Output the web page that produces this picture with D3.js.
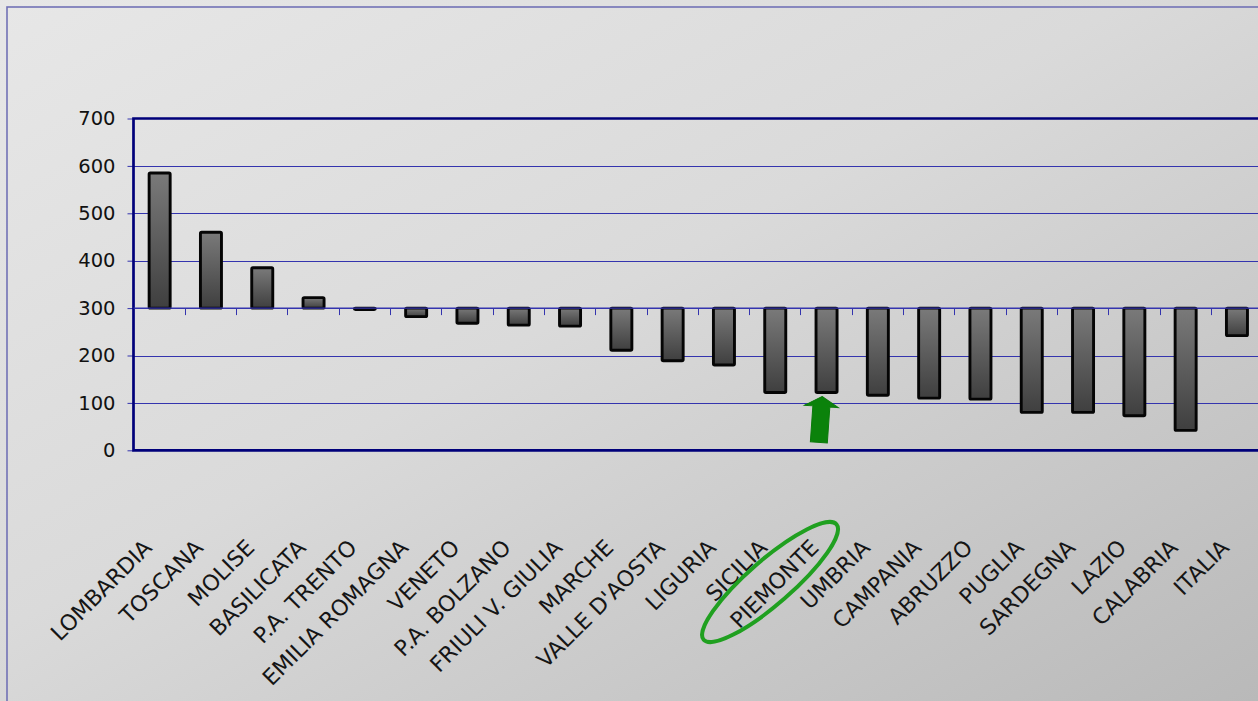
<!DOCTYPE html>
<html>
<head>
<meta charset="utf-8">
<script src="https://cdn.jsdelivr.net/npm/d3@7"></script>
<style>
  html, body { margin: 0; padding: 0; background: #ffffff; }
  svg { display: block; }
  text { font-family: "DejaVu Sans", Verdana, sans-serif; }
</style>
</head>
<body>
<svg id="chart" width="1258" height="701"></svg>
<script>
// Regions (ordered as plotted) and their values; bars hang from the 300 line
const categories = [
  "LOMBARDIA", "TOSCANA", "MOLISE", "BASILICATA", "P.A. TRENTO", "EMILIA ROMAGNA",
  "VENETO", "P.A. BOLZANO", "FRIULI V. GIULIA", "MARCHE", "VALLE D'AOSTA", "LIGURIA",
  "SICILIA", "PIEMONTE", "UMBRIA", "CAMPANIA", "ABRUZZO", "PUGLIA", "SARDEGNA",
  "LAZIO", "CALABRIA", "ITALIA"
];
const values = [
  585, 460, 385, 322, 297, 282,
  268, 264, 262, 211, 189, 180,
  122, 122, 116, 110, 108, 80, 80,
  73, 42, 242
];
const yTicks = [0, 100, 200, 300, 400, 500, 600, 700];
const baseValue = 300;
const highlighted = "PIEMONTE";

const svg = d3.select("#chart");
const W = 1258, H = 701;

const plot = { left: 133.5, top: 118.5, bottom: 450.3, band: 51.3 };
plot.right = plot.left + plot.band * categories.length;

const x = d3.scaleBand().domain(categories).range([plot.left, plot.right]).padding(0);
const y = d3.scaleLinear().domain([0, 700]).range([plot.bottom, plot.top]);
const crisp = v => Math.round(v) + 0.5;

const defs = svg.append("defs");
const bg = defs.append("linearGradient").attr("id", "bgGrad")
  .attr("x1", "0").attr("y1", "0").attr("x2", "1").attr("y2", "1");
bg.append("stop").attr("offset", "0").attr("stop-color", "#e7e7e7");
bg.append("stop").attr("offset", "0.45").attr("stop-color", "#dadada");
bg.append("stop").attr("offset", "1").attr("stop-color", "#b9b9b9");

const barGrad = defs.append("linearGradient").attr("id", "barGrad")
  .attr("x1", "0").attr("y1", "0").attr("x2", "0").attr("y2", "1");
barGrad.append("stop").attr("offset", "0").attr("stop-color", "#7a7a7a");
barGrad.append("stop").attr("offset", "1").attr("stop-color", "#3f3f3f");

// Chart area background and frame
svg.append("rect").attr("x", 0).attr("y", 0).attr("width", W).attr("height", H)
  .attr("fill", "url(#bgGrad)");
svg.append("rect").attr("x", 7).attr("y", 7).attr("width", W + 20).attr("height", H + 20)
  .attr("fill", "none").attr("stroke", "#7272b6").attr("stroke-width", 1.6);

// Horizontal gridlines
svg.append("g").selectAll("line")
  .data(yTicks.filter(v => v > 0 && v < 700))
  .join("line")
  .attr("x1", plot.left).attr("x2", plot.right)
  .attr("y1", d => crisp(y(d))).attr("y2", d => crisp(y(d)))
  .attr("stroke", "#3434ae").attr("stroke-width", 1);

// Value axis
const yAxis = svg.append("g")
  .attr("transform", `translate(${plot.left},0)`)
  .call(d3.axisLeft(y).tickValues(yTicks).tickSize(6).tickPadding(12));
yAxis.select(".domain").remove();
yAxis.selectAll(".tick line").attr("stroke", "#3434ae").attr("stroke-width", 1);
yAxis.selectAll(".tick text")
  .attr("fill", "#111").attr("font-size", "19.5px")
  .attr("font-family", '"DejaVu Sans", Verdana, sans-serif');

// Category ticks hanging below the 300 line
svg.append("g").selectAll("line")
  .data(categories.slice(1))
  .join("line")
  .attr("x1", d => crisp(x(d))).attr("x2", d => crisp(x(d)))
  .attr("y1", y(baseValue)).attr("y2", y(baseValue) + 7)
  .attr("stroke", "#3434ae").attr("stroke-width", 1);

// Bars from the 300 line
const barW = plot.band * 0.41;
svg.append("g").selectAll("rect")
  .data(categories.map((c, i) => ({ c, v: values[i] })))
  .join("rect")
  .attr("x", d => x(d.c) + x.bandwidth() / 2 - barW / 2 + 0.5)
  .attr("y", d => y(Math.max(d.v, baseValue)))
  .attr("width", barW)
  .attr("height", d => Math.max(Math.abs(y(d.v) - y(baseValue)), 0.8))
  .attr("rx", 1.2)
  .attr("fill", "url(#barGrad)")
  .attr("stroke", "#050505").attr("stroke-width", 2.9);

// Plot area border (top, left, bottom) in dark navy
svg.append("path")
  .attr("d", `M${plot.right + 5},${plot.top}H${plot.left}V${plot.bottom}H${plot.right + 5}`)
  .attr("stroke", "#00007a").attr("stroke-width", 2.7).attr("fill", "none");
svg.append("line")
  .attr("x1", plot.left).attr("x2", plot.right)
  .attr("y1", y(baseValue)).attr("y2", y(baseValue))
  .attr("stroke", "#3434ae").attr("stroke-width", 1.2);

// Rotated category labels
const labelY = 549;
svg.append("g").selectAll("text")
  .data(categories)
  .join("text")
  .attr("transform", d => `translate(${x(d) + x.bandwidth() / 2 - 6},${labelY}) rotate(-45)`)
  .attr("text-anchor", "end")
  .attr("font-size", "22px")
  .attr("fill", "#151515")
  .text(d => d);

// Highlight: ellipse around the label and arrow under the bar
const hx = x(highlighted) + x.bandwidth() / 2;
const hv = values[categories.indexOf(highlighted)];
svg.append("ellipse")
  .attr("transform", `translate(${hx - 56},582) rotate(-41)`)
  .attr("rx", 88).attr("ry", 22)
  .attr("fill", "none").attr("stroke", "#20a020").attr("stroke-width", 4);

const tipY = y(hv) + 4;
const arrowShape = [[0, 0], [17, 10], [8.5, 10], [8.5, 46], [-8.5, 46], [-8.5, 10], [-17, 10]];
svg.append("path")
  .attr("transform", `translate(${hx - 4},${tipY}) rotate(4)`)
  .attr("d", d3.line()(arrowShape) + "Z")
  .attr("fill", "#0b820b").attr("stroke", "#0b7a0b").attr("stroke-width", 1);
</script>
</body>
</html>
